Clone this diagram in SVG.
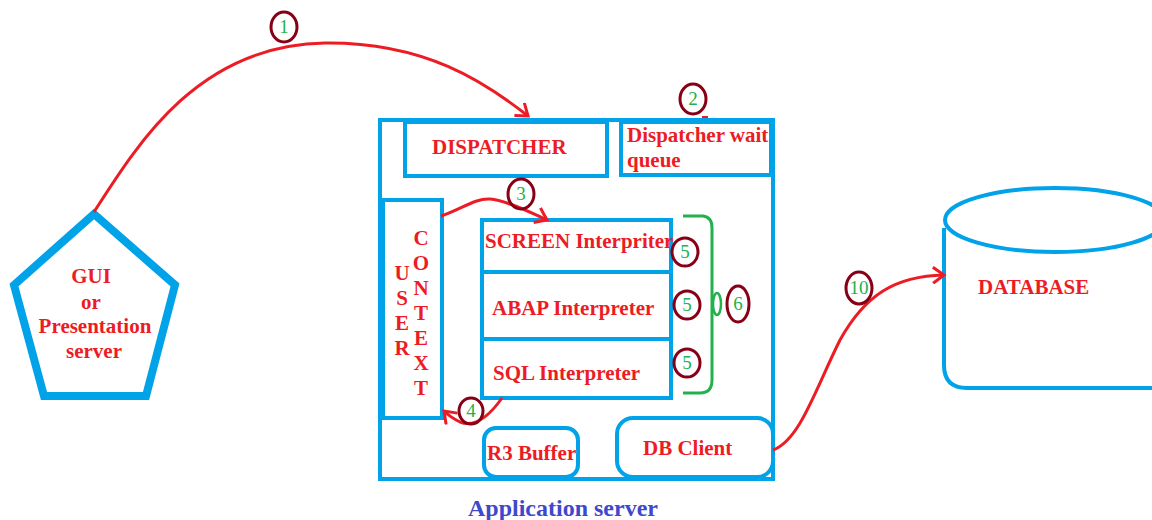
<svg xmlns="http://www.w3.org/2000/svg" width="1152" height="520" viewBox="0 0 1152 520">
<defs>
<style>
.b{fill:none;stroke:#00a2e8;stroke-width:4}
.t{font-family:"Liberation Serif","Times New Roman",serif;font-weight:bold;font-size:21px;fill:#ed1c24}
.c{fill:none;stroke:#880015;stroke-width:3}
.n{font-family:"Liberation Serif","Times New Roman",serif;font-size:19px;fill:#22b14c;text-anchor:middle}
.r{fill:none;stroke:#ed1c24;stroke-width:3}
</style>
<marker id="ah" markerWidth="16" markerHeight="18" refX="13" refY="9" orient="auto" markerUnits="userSpaceOnUse">
<polyline points="2,1 13,9 2,17" fill="none" stroke="#ed1c24" stroke-width="3"/>
</marker>
</defs>
<rect width="1152" height="520" fill="#fff"/>

<g id="gui">
<polygon points="94,214 14,285 44,396 146,396 175,285" fill="none" stroke="#00a2e8" stroke-width="8" stroke-linejoin="miter"/>
<text class="t" text-anchor="middle" x="91" y="283">GUI</text>
<text class="t" text-anchor="middle" x="91" y="309">or</text>
<text class="t" text-anchor="middle" x="95" y="333">Presentation</text>
<text class="t" text-anchor="middle" x="94" y="358">server</text>
</g>

<g id="appserver">
<rect class="b" x="380" y="120" width="393" height="359"/>
<text x="563" y="516" text-anchor="middle" font-family="Liberation Serif,serif" font-weight="bold" font-size="24" fill="#3f48cc">Application server</text>
</g>

<g id="dispatcher">
<rect class="b" x="405" y="122" width="202" height="54"/>
<text class="t" x="432" y="154">DISPATCHER</text>
</g>

<g id="waitqueue">
<rect class="b" x="621" y="122" width="150" height="53"/>
<text class="t" x="627" y="142">Dispatcher wait</text>
<text class="t" x="627" y="167">queue</text>
</g>

<g id="usercontext">
<rect class="b" x="383" y="200" width="59" height="218"/>
<g class="t" text-anchor="middle">
<text x="402" y="280">U</text>
<text x="402" y="305">S</text>
<text x="402" y="330">E</text>
<text x="402" y="355">R</text>
<text x="421" y="245">C</text>
<text x="421" y="270">O</text>
<text x="421" y="295">N</text>
<text x="421" y="320">T</text>
<text x="421" y="345">E</text>
<text x="421" y="370">X</text>
<text x="421" y="395">T</text>
</g>
</g>

<g id="interpreters">
<rect class="b" x="482" y="220" width="189" height="178"/>
<line class="b" x1="482" y1="272" x2="671" y2="272"/>
<line class="b" x1="482" y1="339" x2="671" y2="339"/>
<text class="t" x="485" y="248">SCREEN Interpriter</text>
<text class="t" x="492" y="315">ABAP Interpreter</text>
<text class="t" x="493" y="380">SQL Interpreter</text>
</g>

<g id="r3buffer">
<rect class="b" x="484" y="428" width="94" height="49" rx="12"/>
<text class="t" x="487" y="460">R3 Buffer</text>
</g>

<g id="dbclient">
<rect class="b" x="617" y="418" width="156" height="59" rx="16"/>
<text class="t" x="643" y="455">DB Client</text>
</g>

<g id="database">
<path class="b" d="M944,228 L944,365 Q944,388 967,388 L1160,388"/>
<ellipse class="b" cx="1055" cy="220" rx="110" ry="32"/>
<text class="t" x="978" y="294">DATABASE</text>
</g>

<g id="connectors">
<path class="r" d="M94,212 C140,140 200,45 325,43 C425,42 485,82 528,116" marker-end="url(#ah)"/>
<path class="r" d="M441,216 C460,210 475,198 490,199 C505,200 530,212 547,220" marker-end="url(#ah)"/>
<path class="r" d="M502,398 C490,415 475,428 460,422 C452,418 447,414 444,411" marker-end="url(#ah)"/>
<path class="r" d="M773,450 C800,440 815,390 840,340 C865,295 895,276 944,275" marker-end="url(#ah)"/>
<line x1="702" y1="117" x2="708" y2="117" stroke="#ed1c24" stroke-width="2"/>
<path d="M683,216 L703,216 Q712,217 712,228 L712,380 Q712,393 700,393 L683,393" fill="none" stroke="#22b14c" stroke-width="3"/>
<ellipse cx="717" cy="304" rx="4" ry="11" fill="none" stroke="#22b14c" stroke-width="2.5"/>
</g>

<g id="labels">
<ellipse class="c" cx="284" cy="27" rx="13" ry="15"/><text class="n" x="284" y="33">1</text>
<ellipse class="c" cx="693" cy="99" rx="13" ry="15"/><text class="n" x="693" y="105">2</text>
<ellipse class="c" cx="521" cy="194" rx="13" ry="15"/><text class="n" x="521" y="200">3</text>
<ellipse class="c" cx="471" cy="411" rx="12" ry="13"/><text class="n" x="471" y="417">4</text>
<ellipse class="c" cx="685" cy="252" rx="13" ry="14"/><text class="n" x="685" y="258">5</text>
<ellipse class="c" cx="687" cy="305" rx="13" ry="14"/><text class="n" x="687" y="311">5</text>
<ellipse class="c" cx="687" cy="363" rx="13" ry="14"/><text class="n" x="687" y="369">5</text>
<ellipse class="c" cx="738" cy="304" rx="11" ry="18"/><text class="n" x="738" y="310">6</text>
<ellipse class="c" cx="859" cy="288" rx="13" ry="16"/><text class="n" x="859" y="294">10</text>
</g>
</svg>
